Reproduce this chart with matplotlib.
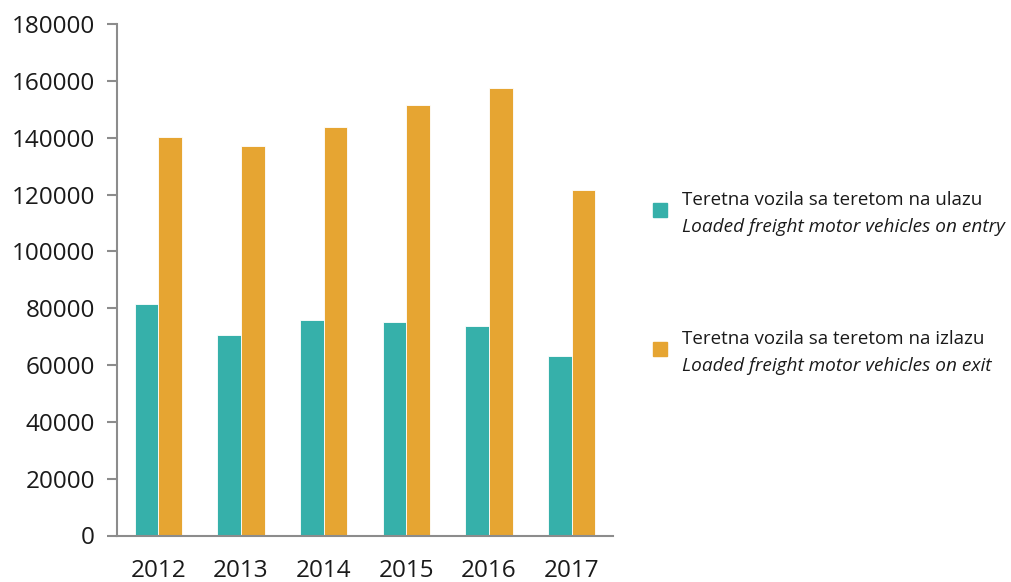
import matplotlib.pyplot as plt
import matplotlib.patches as mpatches
import numpy as np

# podaci
godine = ['2012', '2013', '2014', '2015', '2016', '2017']
ulaz = [81300, 70400, 76000, 75000, 73900, 63300]
izlaz = [140100, 136900, 143600, 151500, 157400, 121500]

leg_hr = ['Teretna vozila sa teretom na ulazu', 'Teretna vozila sa teretom na izlazu']
leg_en = ['Loaded freight motor vehicles on entry', 'Loaded freight motor vehicles on exit']

teal = '#36B0AA'
orange = '#E6A532'
siva = '#8C8C8C'

plt.rcParams['font.family'] = ['Open Sans', 'DejaVu Sans']

fig = plt.figure(figsize=(10.12, 5.82), dpi=100)
ax = fig.add_axes([117/1012, 1-535.5/582, 496/1012, (535.5-24)/582])

x = np.arange(len(godine))
w = 0.285
ax.bar(x - w/2, ulaz, w, color=teal, edgecolor='white', linewidth=0.6)
ax.bar(x + w/2, izlaz, w, color=orange, edgecolor='white', linewidth=0.6)

ax.set_xlim(-0.5, len(godine) - 0.5)
ax.set_ylim(0, 180000)
ax.set_yticks(np.arange(0, 180001, 20000))
ax.set_xticks(x)
ax.set_xticklabels(godine)

for s in ['top', 'right']:
    ax.spines[s].set_visible(False)
for s in ['left', 'bottom']:
    ax.spines[s].set_color(siva)
    ax.spines[s].set_linewidth(1.5)

ax.tick_params(axis='y', length=7, width=1.5, color=siva, labelsize=17.5, pad=9, labelcolor='#1a1a1a')
ax.tick_params(axis='x', length=0, labelsize=17.5, pad=17, labelcolor='#1a1a1a')

# legenda sa strane
boje = [teal, orange]
ytop = [200, 339]
for i in range(2):
    y0 = 1 - ytop[i]/582
    fig.patches.append(mpatches.Rectangle((653/1012, y0 - 17/582), 14/1012, 14/582,
                                          transform=fig.transFigure, color=boje[i]))
    fig.text(682/1012, y0, leg_hr[i], fontsize=13.5, va='center', color='#1a1a1a')
    fig.text(682/1012, y0 - 27/582, leg_en[i], fontsize=13.7, va='center',
             style='italic', color='#1a1a1a')

plt.savefig('out.png', dpi=100)
